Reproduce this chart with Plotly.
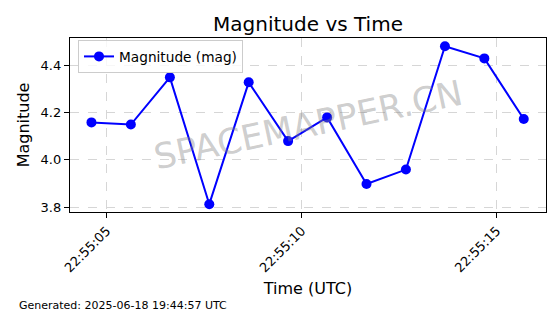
import plotly.graph_objects as go

times = ["2025-06-18 22:55:04.61", "2025-06-18 22:55:05.62", "2025-06-18 22:55:06.62",
         "2025-06-18 22:55:07.63", "2025-06-18 22:55:08.64", "2025-06-18 22:55:09.65",
         "2025-06-18 22:55:10.65", "2025-06-18 22:55:11.66", "2025-06-18 22:55:12.67",
         "2025-06-18 22:55:13.67", "2025-06-18 22:55:14.68", "2025-06-18 22:55:15.69"]
magnitudes = [4.158, 4.149, 4.348, 3.813, 4.327, 4.079, 4.179, 3.898, 3.959, 4.479, 4.428, 4.172]
y_ticks = [3.8, 4.0, 4.2, 4.4]
x_range = ["2025-06-18 22:55:04.06", "2025-06-18 22:55:16.26"]
y_range = [3.780, 4.514]

FONT = "DejaVu Sans"
PL, PR, PT, PB = 70, 546, 38, 212  # plot area in px
W, H = 560, 314

fig = go.Figure()
fig.add_trace(go.Scatter(
    x=times, y=magnitudes, mode="lines+markers", name="Magnitude (mag)",
    line=dict(color="#0000ff", width=2),
    marker=dict(color="#0000ff", size=10),
))

fig.update_layout(
    width=W, height=H,
    margin=dict(l=PL, r=W - PR, t=PT, b=H - PB),
    paper_bgcolor="white", plot_bgcolor="white",
    font=dict(family=FONT, color="black"),
    title=dict(text="Magnitude vs Time", x=(PL + PR) / 2 / W, xanchor="center",
               y=1 - 24 / H, yanchor="middle", font=dict(size=20, family=FONT)),
    showlegend=True,
    legend=dict(x=(78 - PL) / (PR - PL), y=1 - (40 - PT) / (PB - PT),
                xanchor="left", yanchor="top",
                bgcolor="rgba(255,255,255,0.8)", bordercolor="#cccccc", borderwidth=1,
                font=dict(size=13.7, family=FONT), itemwidth=30),
    xaxis=dict(
        type="date", range=x_range, tickformat="%H:%M:%S",
        tick0="2025-06-18 22:55:00", dtick=5000, tickangle=-45,
        showline=True, mirror=True, linecolor="black", linewidth=1.3,
        ticks="outside", ticklen=5, tickcolor="black", tickwidth=1.3,
        showgrid=True, gridcolor="#d6d6d6", griddash="dash", gridwidth=1,
        tickfont=dict(size=13, family=FONT), zeroline=False,
        title=dict(text="Time (UTC)", font=dict(size=16, family=FONT), standoff=8),
    ),
    yaxis=dict(
        range=y_range, tickvals=y_ticks, tickformat=".1f",
        showline=True, mirror=True, linecolor="black", linewidth=1.3,
        ticks="outside", ticklen=5, tickcolor="black", tickwidth=1.3,
        showgrid=True, gridcolor="#d6d6d6", griddash="dash", gridwidth=1,
        tickfont=dict(size=13, family=FONT), zeroline=False,
        title=dict(text="Magnitude", font=dict(size=16, family=FONT), standoff=6),
    ),
)

fig.add_annotation(text="SPACEMAPPER.CN", x=0.5, y=0.5, xref="x domain", yref="y domain",
                   showarrow=False, textangle=-12,
                   font=dict(size=35, family=FONT, color="rgba(128,128,128,0.4)"))
fig.add_annotation(text="Generated: 2025-06-18 19:44:57 UTC",
                   x=(17 - PL) / (PR - PL), y=(PB - 305) / (PB - PT),
                   xref="paper", yref="paper", xanchor="left", yanchor="middle",
                   showarrow=False, font=dict(size=11, family=FONT, color="black"))

fig.write_html("out.html")
